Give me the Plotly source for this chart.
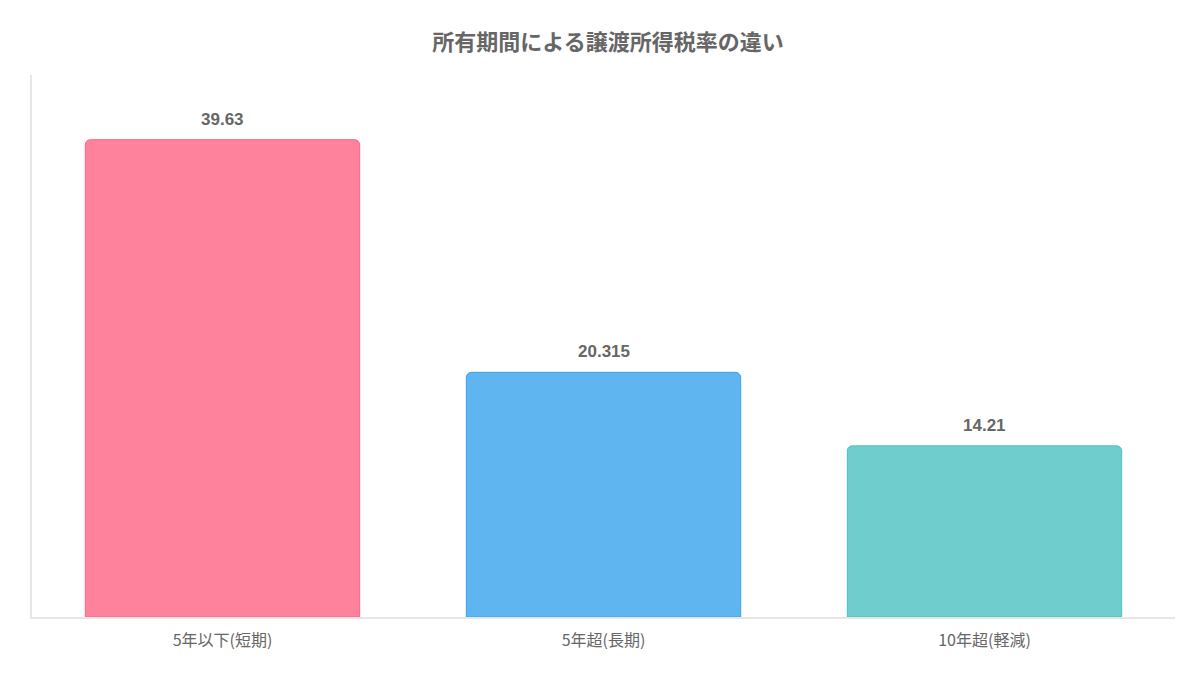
import plotly.graph_objects as go

categories = ["5年以下(短期)", "5年超(長期)", "10年超(軽減)"]
values = [39.63, 20.315, 14.21]
labels = ["39.63", "20.315", "14.21"]
fill_colors = ["rgba(255,99,132,0.8)", "rgba(54,162,235,0.8)", "rgba(75,192,192,0.8)"]
line_colors = ["rgb(255,99,132)", "rgb(54,162,235)", "rgb(75,192,192)"]

fig = go.Figure()
fig.add_trace(go.Bar(
    x=categories, y=values,
    marker=dict(color=fill_colors, line=dict(color=line_colors, width=1), cornerradius=5),
    width=0.72, hoverinfo="skip",
))

for c, v, t in zip(categories, values, labels):
    fig.add_annotation(x=c, y=v, text="<b>" + t + "</b>", showarrow=False, yanchor="bottom", yshift=9,
                       font=dict(family="Liberation Sans, Arial, sans-serif", size=17, color="#666666"))

fig.update_layout(
    width=1200, height=675,
    paper_bgcolor="white", plot_bgcolor="white",
    margin=dict(l=24, r=33, t=67, b=66),
    title=dict(text="<b>所有期間による譲渡所得税率の違い</b>", x=0.5, xanchor="center", y=1 - 34/675, yanchor="middle",
               font=dict(family="Noto Sans CJK JP", size=22, color="#666666")),
    showlegend=False,
)
fig.update_xaxes(showline=True, linecolor="#e6e6e6", linewidth=2, showgrid=False, ticks="",
                 ticklabelstandoff=8,
                 tickfont=dict(family="Noto Sans CJK JP, Liberation Sans", size=16, color="#666666"))
fig.update_yaxes(range=[0, 45], showline=True, linecolor="#e6e6e6", linewidth=2, showgrid=False,
                 showticklabels=False, ticks="", zeroline=False)

fig.write_html("out.html")
